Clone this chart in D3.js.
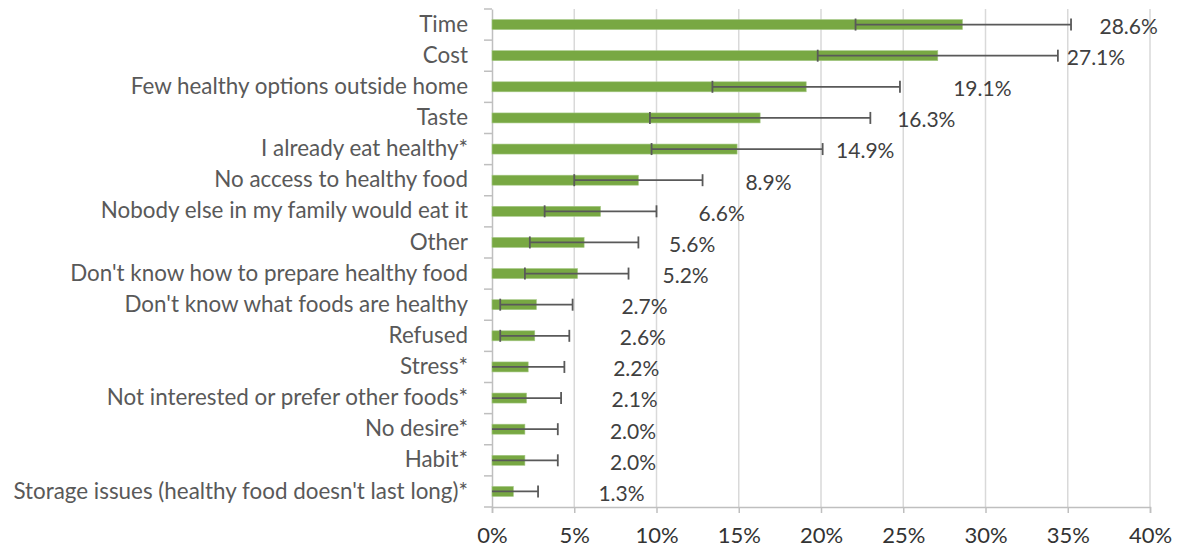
<!DOCTYPE html>
<html><head><meta charset="utf-8">
<script src="https://cdn.jsdelivr.net/npm/d3@7"></script>
<style>body{margin:0;background:#fff}svg{display:block}</style>
</head><body><svg id="c" width="1188" height="550"></svg>
<script>
const categories = ["Time","Cost","Few healthy options outside home","Taste","I already eat healthy*","No access to healthy food","Nobody else in my family would eat it","Other","Don't know how to prepare healthy food","Don't know what foods are healthy","Refused","Stress*","Not interested or prefer other foods*","No desire*","Habit*","Storage issues (healthy food doesn't last long)*"];
const values = [28.6,27.1,19.1,16.3,14.9,8.9,6.6,5.6,5.2,2.7,2.6,2.2,2.1,2.0,2.0,1.3];
const errLow = [22.1,19.8,13.4,9.6,9.7,5.0,3.2,2.3,2.0,0.5,0.5,0,0,0,0,0];
const errHigh = [35.2,34.4,24.8,23.0,20.1,12.8,10.0,8.9,8.3,4.9,4.7,4.4,4.2,4.0,4.0,2.8];
const xTicks = [0,5,10,15,20,25,30,35,40];

// label placement tweaks (style, px)
const labelDx = {"Time":52,"Cost":44,"Few healthy options outside home":62,"Taste":52,"I already eat healthy*":14,"No access to healthy food":22,"Nobody else in my family would eat it":13};

const svg = d3.select("#c");
const font = "Lato, 'Open Sans', sans-serif";
const x = d3.scaleLinear().domain([0,40]).range([492,1150]);
const y = d3.scaleBand().domain(categories).range([9,507]);

// gridlines
svg.append("g").selectAll("line").data(xTicks.filter(t=>t>0)).join("line")
  .attr("x1",d=>x(d)).attr("x2",d=>x(d)).attr("y1",y.range()[0]).attr("y2",y.range()[1])
  .attr("stroke","#d9d9d9").attr("stroke-width",1.5);

// x axis
const xa = svg.append("g").attr("transform","translate(0,507)")
  .call(d3.axisBottom(x).tickValues(xTicks).tickFormat(d=>d+"%").tickSize(6).tickPadding(14));
xa.select(".domain").attr("stroke","#bfbfbf").attr("stroke-width",1.5);
xa.selectAll(".tick line").attr("stroke","#bfbfbf").attr("stroke-width",1.5);
xa.selectAll("text").attr("font-family",font).attr("font-size",22).attr("fill","#333");

// y axis
const ya = svg.append("g").attr("transform","translate(492,0)")
  .call(d3.axisLeft(y).tickSize(0).tickPadding(24));
ya.select(".domain").attr("stroke","#bfbfbf").attr("stroke-width",1.5);
ya.selectAll("text").attr("font-family",font).attr("font-size",22.4).attr("fill","#595959");
// band boundary ticks
svg.append("g").selectAll("line").data(categories.map((c,i)=>y.range()[0]+i*y.step()).concat([y.range()[1]])).join("line")
  .attr("x1",484).attr("x2",492).attr("y1",d=>d).attr("y2",d=>d)
  .attr("stroke","#bfbfbf").attr("stroke-width",1.5);

const bh = 10;
// bars
svg.append("g").selectAll("rect").data(categories).join("rect")
  .attr("x",x(0)).attr("y",c=>y(c)+y.bandwidth()/2-bh/2)
  .attr("width",(c,i)=>x(values[i])-x(0)).attr("height",bh)
  .attr("fill","#78a843").attr("stroke","#a6c986").attr("stroke-width",0.6);

// error bars
const eg = svg.append("g").attr("stroke","#595959").attr("stroke-width",1.8);
categories.forEach((c,i)=>{
  const cy = y(c)+y.bandwidth()/2;
  eg.append("line").attr("x1",x(errLow[i])).attr("x2",x(errHigh[i])).attr("y1",cy).attr("y2",cy);
  eg.append("line").attr("x1",x(errHigh[i])).attr("x2",x(errHigh[i])).attr("y1",cy-6).attr("y2",cy+6);
  if (errLow[i] > 0) eg.append("line").attr("x1",x(errLow[i])).attr("x2",x(errLow[i])).attr("y1",cy-6).attr("y2",cy+6);
});

// data labels
svg.append("g").selectAll("text").data(categories).join("text")
  .attr("x",(c,i)=>x(values[i])+85+(labelDx[c]||0))
  .attr("y",c=>y(c)+y.bandwidth()/2+2)
  .attr("dy","0.35em")
  .attr("font-family",font).attr("font-size",21).attr("fill","#404040")
  .text((c,i)=>values[i].toFixed(1)+"%");
</script></body></html>
